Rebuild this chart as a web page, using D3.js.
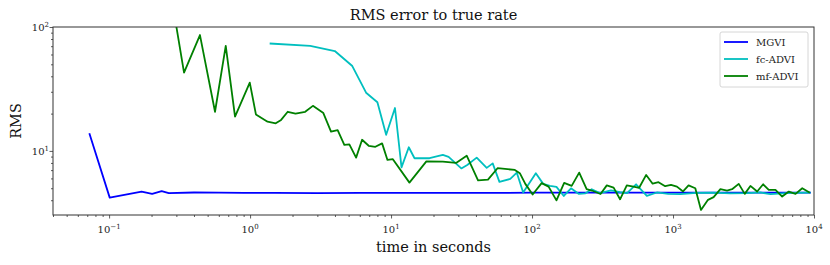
<!DOCTYPE html>
<html>
<head>
<meta charset="utf-8">
<script src="https://cdn.jsdelivr.net/npm/d3@7"></script>
<style>
  body { margin: 0; background: #fff; }
  svg { font-family: "DejaVu Serif", serif; }
</style>
</head>
<body>
<div id="chart"></div>
<script>
// run times (seconds) and RMS error
const mgviTime = [0.0724, 0.101, 0.170, 0.202, 0.236, 0.265, 0.40, 0.6, 0.9, 1.5, 3, 6, 10, 20, 50, 100, 300, 1000, 3000, 9500];
const mgviRms  = [13.9, 4.2, 4.70, 4.50, 4.73, 4.56, 4.62, 4.61, 4.58, 4.58, 4.57, 4.58, 4.58, 4.58, 4.58, 4.60, 4.60, 4.60, 4.60, 4.60];

const fcTime = [1.377, 2.67, 3.99, 5.31, 6.65, 8.00, 9.23, 10.66, 11.86, 13.36, 14.67, 18.75, 23.3, 25.6, 31.5, 34.7, 40.5, 47.7, 52.6, 58.7,
  70.1, 78.0, 86.5, 106.4, 120, 134, 149, 168, 189, 215, 238, 265, 303, 363, 421, 472, 547, 652, 768, 925,
  1125, 1462, 1931, 2552, 3355, 4170, 4911, 6820, 9460];
const fcRms = [73.6, 70.3, 64.0, 48.4, 29.5, 24.7, 13.5, 22.2, 7.36, 10.7, 8.73, 8.73, 9.29, 8.95, 7.22, 7.71, 8.83, 7.30, 7.93, 5.62,
  5.95, 6.67, 4.62, 6.61, 5.42, 5.22, 5.13, 4.33, 4.99, 4.50, 4.54, 4.91, 4.56, 4.80, 4.65, 4.56, 5.38, 4.33, 4.62, 4.50,
  4.48, 4.58, 4.60, 4.54, 4.56, 4.62, 4.48, 4.58, 4.60];

const mfTime = [0.283, 0.340, 0.441, 0.564, 0.672, 0.782, 0.995, 1.10, 1.33, 1.52, 1.66, 1.85, 2.10, 2.46, 2.79, 3.31, 3.75, 4.18, 4.66, 5.06,
  5.65, 6.23, 6.94, 7.74, 8.64, 9.43, 10.3, 13.5, 17.8, 23.3, 28.9, 34.4, 41.4, 48.7, 56.9, 75.5, 81.9, 89.6, 101, 117,
  131, 149, 169, 191, 216, 244, 265, 306, 339, 379, 421, 470, 524, 575, 645, 717, 789, 880, 968, 1066,
  1178, 1289, 1439, 1579, 1771, 1941, 2168, 2418, 2624, 2924, 3226, 3540, 3953, 4359, 4777, 5331, 5946, 6628, 7398, 8255, 9350];
const mfRms = [150, 42.8, 86.1, 20.7, 70.3, 18.9, 35.6, 19.7, 17.2, 16.7, 17.8, 20.7, 20.0, 20.7, 23.1, 20.2, 14.3, 14.7, 11.2, 11.3,
  8.83, 12.3, 11.0, 10.8, 11.5, 8.46, 8.57, 5.55, 8.23, 8.20, 8.00, 9.15, 5.78, 5.87, 7.25, 7.03, 6.61, 5.42, 4.45, 5.50,
  5.15, 3.99, 5.52, 5.22, 6.68, 4.91, 4.79, 4.49, 5.27, 5.06, 4.07, 5.28, 5.15, 5.04, 6.40, 5.44, 5.59, 5.19, 5.32, 5.15,
  4.71, 5.27, 5.00, 3.34, 4.03, 4.24, 4.91, 4.79, 4.91, 5.42, 4.50, 5.22, 4.70, 5.38, 4.84, 4.84, 4.28, 4.70, 4.50, 5.00, 4.60];

const seriesNames = ["MGVI", "fc-ADVI", "mf-ADVI"];
const seriesColors = ["#0000ff", "#00bfbf", "#008000"];
const xMajorTicks = [0.1, 1, 10, 100, 1000, 10000];
const yMajorTicks = [10, 100];

const series = [
  { name: seriesNames[0], color: seriesColors[0], pts: mgviTime.map((t, i) => [t, mgviRms[i]]) },
  { name: seriesNames[1], color: seriesColors[1], pts: fcTime.map((t, i) => [t, fcRms[i]]) },
  { name: seriesNames[2], color: seriesColors[2], pts: mfTime.map((t, i) => [t, mfRms[i]]) }
];

const W = 830, H = 265;
const margin = { top: 27, right: 16, bottom: 50, left: 53 };
const width = W - margin.left - margin.right;
const height = H - margin.top - margin.bottom;

const svg = d3.select("#chart").append("svg")
  .attr("width", W).attr("height", H);

const g = svg.append("g")
  .attr("transform", `translate(${margin.left},${margin.top})`);

const x = d3.scaleLog().domain([0.04, 10000]).range([0, width]);
const y = d3.scaleLog().domain([3.04, 100]).range([height, 0]);

// minor ticks
const xMinor = [];
for (let e = -2; e < 4; e++) for (let m = 2; m < 10; m++) {
  const v = m * Math.pow(10, e);
  if (v >= x.domain()[0] && v <= x.domain()[1]) xMinor.push(v);
}
const yMinor = [];
for (let e = 0; e < 2; e++) for (let m = 2; m < 10; m++) {
  const v = m * Math.pow(10, e);
  if (v >= y.domain()[0] && v <= y.domain()[1]) yMinor.push(v);
}

g.append("defs").append("clipPath").attr("id", "clip")
  .append("rect").attr("width", width).attr("height", height);

const line = d3.line().x(d => x(d[0])).y(d => y(d[1]));

g.append("g").attr("clip-path", "url(#clip)")
  .selectAll("path").data(series).join("path")
  .attr("d", d => line(d.pts))
  .attr("fill", "none")
  .attr("stroke", d => d.color)
  .attr("stroke-width", 1.8)
  .attr("stroke-linejoin", "round");

// axes
const xAxis = g.append("g").attr("transform", `translate(0,${height})`);
xAxis.call(d3.axisBottom(x).tickValues(xMinor).tickSize(2).tickFormat(""));
xAxis.append("g").call(d3.axisBottom(x).tickValues(xMajorTicks).tickSize(3.5).tickFormat(""));

const yAxis = g.append("g");
yAxis.call(d3.axisLeft(y).tickValues(yMinor).tickSize(2).tickFormat(""));
yAxis.append("g").call(d3.axisLeft(y).tickValues(yMajorTicks).tickSize(3.5).tickFormat(""));

g.selectAll(".domain").remove();
g.selectAll(".tick line").attr("stroke", "#333").attr("stroke-width", 0.8);

// power-of-ten tick labels
function powLabel(sel, v) {
  const e = Math.round(Math.log10(v));
  sel.append("tspan").text("10");
  sel.append("tspan").attr("dy", -4).attr("font-size", 7).text(e < 0 ? "\u2212" + (-e) : e);
}
xMajorTicks.forEach(v => {
  g.append("text").attr("x", x(v)).attr("y", height + 18)
    .attr("text-anchor", "middle").attr("font-size", 10).attr("fill", "#222")
    .call(powLabel, v);
});
yMajorTicks.forEach(v => {
  g.append("text").attr("x", -4).attr("y", y(v) + 4)
    .attr("text-anchor", "end").attr("font-size", 10).attr("fill", "#222")
    .call(powLabel, v);
});

// frame
g.append("rect").attr("width", width).attr("height", height)
  .attr("fill", "none").attr("stroke", "#333").attr("stroke-width", 1);

// titles
svg.append("text").attr("x", margin.left + width / 2).attr("y", 20)
  .attr("text-anchor", "middle").attr("font-size", 14.5).attr("fill", "#111")
  .text("RMS error to true rate");
svg.append("text").attr("x", margin.left + width / 2).attr("y", 252)
  .attr("text-anchor", "middle").attr("font-size", 14.5).attr("fill", "#111")
  .text("time in seconds");
svg.append("text").attr("transform", `translate(21,${margin.top + height / 2}) rotate(-90)`)
  .attr("text-anchor", "middle").attr("font-size", 14.5).attr("fill", "#111")
  .text("RMS");

// legend
const leg = g.append("g").attr("transform", `translate(${width - 94},5)`);
leg.append("rect").attr("width", 88).attr("height", 55).attr("rx", 2)
  .attr("fill", "#fff").attr("stroke", "#ccc").attr("stroke-width", 0.8);
series.forEach((s, i) => {
  const yy = 10 + i * 17;
  leg.append("line").attr("x1", 4).attr("x2", 28).attr("y1", yy).attr("y2", yy)
    .attr("stroke", s.color).attr("stroke-width", 1.8);
  leg.append("text").attr("x", 36).attr("y", yy + 3.5).attr("font-size", 10).attr("fill", "#222")
    .text(s.name);
});
</script>
</body>
</html>
